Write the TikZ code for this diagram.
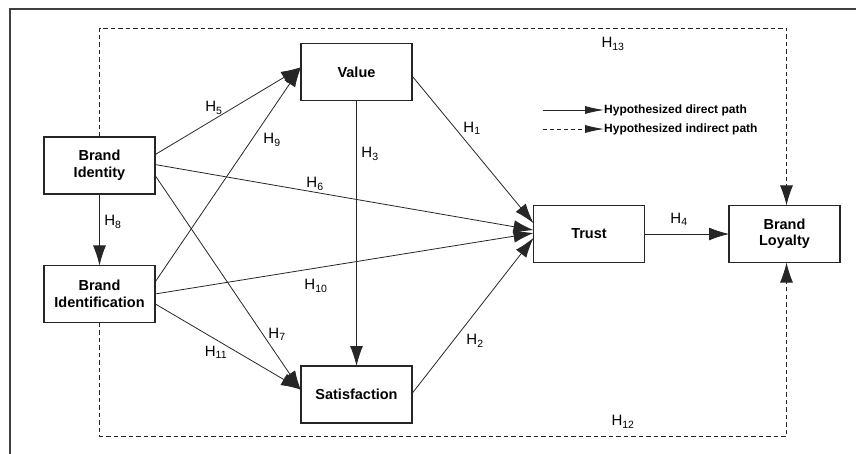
\documentclass[tikz,border=0pt]{standalone}
\usepackage{fontspec}
\setmainfont{Liberation Sans}
\usetikzlibrary{arrows.meta,calc}
\begin{document}
\begin{tikzpicture}[x=1pt,y=-1pt,
  box/.style={draw=black!85,line width=1.5pt,fill=white,minimum width=111pt,minimum height=57pt,
    align=center,inner sep=0pt,outer sep=0pt,font=\fontsize{14.5}{16.5}\selectfont\bfseries},
  arr/.style={draw=black!85,line width=0.8pt,-{Latex[length=20pt,width=13pt]}},
  darr/.style={draw=black!85,line width=0.9pt,dash pattern=on 4.5pt off 3pt,-{Latex[length=20pt,width=13pt]}},
  hl/.style={font=\fontsize{15}{17}\selectfont,inner sep=0pt},
  legtxt/.style={font=\fontsize{12}{14}\selectfont\bfseries,inner sep=0pt,anchor=west},
  legarr/.style={draw=black!85,line width=0.8pt,-{Latex[length=19pt,width=8pt]}}
]
\useasboundingbox (0,0) rectangle (856,454);
% frame
\draw[black!75,line width=1.4pt] (856,9) -- (10,9) -- (10,454);
% nodes
\node[box] (bi)   at (99.5,165.5) {Brand\\Identity};
\node[box] (val)  at (356.5,72) {Value};
\node[box] (bidn) at (99.5,294) {Brand\\Identification};
\node[box] (sat)  at (356.5,394.5) {Satisfaction};
\node[box] (tru)  at (589,234) {Trust};
\node[box] (bl)   at (784.5,234) {Brand\\Loyalty};
% dashed loops
\coordinate (tl) at (98,28);
\coordinate (bt) at (98,436);
\draw[darr] (bi.north) -- (bi.north |- tl) -- ($(bl.north |- tl)+(2,0)$) -- ($(bl.north)+(2,0)$);
\draw[darr] (bidn.south) -- (bidn.south |- bt) -- ($(bl.south |- bt)+(2,0)$) -- ($(bl.south)+(2,0)$);
% direct paths
\draw[arr] (bi.11.7) -- (val.175.8);
\draw[arr] (bidn.12.2) -- (val.175.8);
\draw[arr] (bi.1.5) -- (tru.176.9);
\draw[arr] (bi.-10.7) -- (sat.176.5);
\draw[arr] (bi.south) -- (bidn.north);
\draw[arr] (bidn.0) -- (tru.179);
\draw[arr] (bidn.-10.2) -- (sat.175.5);
\draw[arr] (val.south) -- (sat.north);
\draw[arr] (val.-4) -- (tru.169.7);
\draw[arr] (sat.1.5) -- (tru.184);
\draw[arr] (tru.east) -- (bl.west);
% labels
\node[hl] (h5)  at (214,108) {H\textsubscript{5}};
\node[hl] (h9)  at (272,140) {H\textsubscript{9}};
\node[hl] (h3)  at (370,154) {H\textsubscript{3}};
\node[hl] (h1)  at (472,128) {H\textsubscript{1}};
\node[hl] (h6)  at (315,184) {H\textsubscript{6}};
\node[hl] (h8)  at (113,222) {H\textsubscript{8}};
\node[hl] (h10) at (316,286) {H\textsubscript{10}};
\node[hl] (h7)  at (277,334) {H\textsubscript{7}};
\node[hl] (h11) at (216,352) {H\textsubscript{11}};
\node[hl] (h2)  at (475,341) {H\textsubscript{2}};
\node[hl] (h4)  at (679,219) {H\textsubscript{4}};
\node[hl] (h13) at (613,44) {H\textsubscript{13}};
\node[hl] (h12) at (623,422) {H\textsubscript{12}};
% legend
\node[legtxt] (lg1) at (604,110) {Hypothesized direct path};
\node[legtxt] (lg2) at (604,129) {Hypothesized indirect path};
\coordinate (ls1) at (543,110);
\coordinate (ls2) at (543,129);
\draw[legarr] (ls1) -- (lg1.west);
\draw[legarr,dash pattern=on 4pt off 3pt] (ls2) -- (lg2.west);
\end{tikzpicture}
\end{document}
